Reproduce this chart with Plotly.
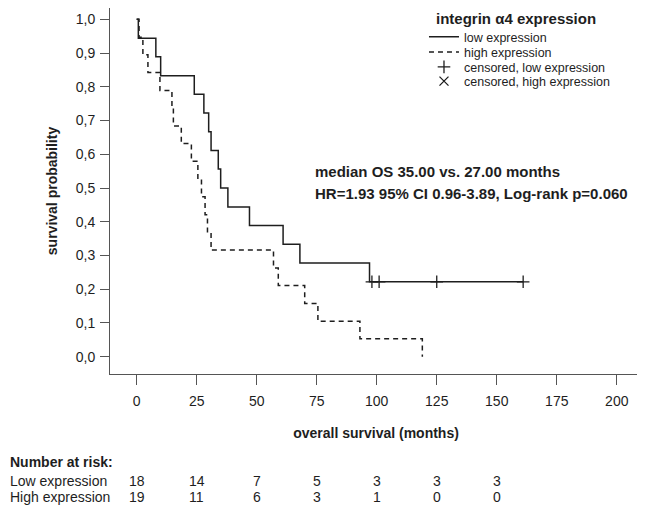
import plotly.graph_objects as go

# ---- data ----
low_times = [0, 0.7, 8, 10, 24, 28, 30, 31, 34, 35, 38, 47, 61, 68, 97, 161]
low_surv = [1.0, 0.944, 0.889, 0.833, 0.778, 0.722, 0.667, 0.611, 0.556, 0.500,
            0.444, 0.389, 0.333, 0.278, 0.222, 0.222]

high_times = [0, 1, 2.6, 4.7, 9.7, 14.7, 15.3, 18.6, 22.8, 25.5, 27, 28.5, 29.5,
              31, 57, 59, 70, 75.5, 93, 119]
high_surv = [1.0, 0.947, 0.895, 0.842, 0.789, 0.737, 0.684, 0.632, 0.579, 0.526,
             0.474, 0.421, 0.368, 0.316, 0.263, 0.211, 0.158, 0.105, 0.053, 0.0]

cens_low_times = [98, 101, 125, 161]
cens_low_surv = [0.222, 0.222, 0.222, 0.222]
cens_high_times = []   # no censored patients in the high-expression group
cens_high_surv = []

x_ticks = [0, 25, 50, 75, 100, 125, 150, 175, 200]
y_ticks = [0.0, 0.1, 0.2, 0.3, 0.4, 0.5, 0.6, 0.7, 0.8, 0.9, 1.0]
y_ticktext = ["0,0", "0,1", "0,2", "0,3", "0,4", "0,5", "0,6", "0,7", "0,8", "0,9", "1,0"]

risk_times = [0, 25, 50, 75, 100, 125, 150]
risk_low = [18, 14, 7, 5, 3, 3, 3]
risk_high = [19, 11, 6, 3, 1, 0, 0]

FONT = "Liberation Sans, Arial, sans-serif"
INK = "#1e1e1e"
AXC = "#555555"

fig = go.Figure()
fig.add_trace(go.Scatter(x=low_times, y=low_surv, mode="lines", line_shape="hv",
                         line=dict(color=INK, width=1.5), name="low expression",
                         legend="legend"))
fig.add_trace(go.Scatter(x=high_times, y=high_surv, mode="lines", line_shape="hv",
                         line=dict(color=INK, width=1.5, dash="5px,4px"),
                         name="high expression", legend="legend2"))
fig.add_trace(go.Scatter(x=cens_low_times, y=cens_low_surv, mode="markers",
                         marker=dict(symbol="cross-thin-open", size=9, color=INK,
                                     line=dict(color=INK, width=1.3)),
                         name="censored, low expression", legend="legend3"))
fig.add_trace(go.Scatter(x=cens_high_times or [None], y=cens_high_surv or [None],
                         mode="markers",
                         marker=dict(symbol="x-thin-open", size=9, color=INK,
                                     line=dict(color=INK, width=1.3)),
                         name="censored, high expression", legend="legend4"))

annotations = [
    dict(text="<b>integrin α4 expression</b>", xref="paper", yref="paper",
         x=0.6090, y=0.999, xanchor="left", yanchor="top", showarrow=False,
         font=dict(size=15, color=INK, family=FONT)),
    dict(text="<b>median OS 35.00 vs. 27.00 months</b>", xref="paper", yref="paper",
         x=0.3816, y=0.552, xanchor="left", yanchor="middle", showarrow=False,
         font=dict(size=15, color=INK, family=FONT)),
    dict(text="<b>HR=1.93 95% CI 0.96-3.89, Log-rank p=0.060</b>", xref="paper", yref="paper",
         x=0.3816, y=0.4945, xanchor="left", yanchor="middle", showarrow=False,
         font=dict(size=15, color=INK, family=FONT)),
    dict(text="<b>Number at risk:</b>", xref="paper", yref="paper", x=-0.1917, y=-0.2404,
         xanchor="left", yanchor="middle", showarrow=False,
         font=dict(size=14, color=INK, family=FONT)),
    dict(text="Low expression", xref="paper", yref="paper", x=-0.1917, y=-0.2923,
         xanchor="left", yanchor="middle", showarrow=False,
         font=dict(size=14, color=INK, family=FONT)),
    dict(text="High expression", xref="paper", yref="paper", x=-0.1917, y=-0.3361,
         xanchor="left", yanchor="middle", showarrow=False,
         font=dict(size=14, color=INK, family=FONT)),
]
for t, n in zip(risk_times, risk_low):
    annotations.append(dict(text=str(n), xref="x", yref="paper", x=t, y=-0.2923,
                            xanchor="center", yanchor="middle", showarrow=False,
                            font=dict(size=14, color=INK, family=FONT)))
for t, n in zip(risk_times, risk_high):
    annotations.append(dict(text=str(n), xref="x", yref="paper", x=t, y=-0.3361,
                            xanchor="center", yanchor="middle", showarrow=False,
                            font=dict(size=14, color=INK, family=FONT)))

leg_common = dict(x=0.5902, xanchor="left", yanchor="top", bgcolor="rgba(0,0,0,0)",
                  itemwidth=30, font=dict(size=12.5, family=FONT, color=INK))

fig.update_layout(
    width=637, height=502,
    margin=dict(l=102, r=3, t=0, b=136, autoexpand=False),
    paper_bgcolor="white", plot_bgcolor="white",
    font=dict(family=FONT, color=INK),
    showlegend=True,
    legend=dict(y=0.9612, **leg_common),
    legend2=dict(y=0.9194, **leg_common),
    legend3=dict(y=0.8792, **leg_common),
    legend4=dict(y=0.8402, **leg_common),
    annotations=annotations,
    xaxis=dict(
        range=[-11.1, 210.5], tickvals=x_ticks, ticks="outside", ticklen=10,
        tickcolor=AXC, tickwidth=1, showline=True, linecolor=AXC, linewidth=1,
        showgrid=False, zeroline=False, ticklabelstandoff=4,
        tickfont=dict(size=14, family=FONT, color=INK),
        title=dict(text="<b>overall survival (months)</b>", standoff=20,
                   font=dict(size=14, family=FONT, color=INK)),
    ),
    yaxis=dict(
        range=[-0.0513, 1.0335], tickvals=y_ticks, ticktext=y_ticktext, ticks="outside",
        ticklen=9, tickcolor=AXC, tickwidth=1, showline=True, linecolor=AXC,
        linewidth=1, showgrid=False, zeroline=False, ticklabelstandoff=2,
        tickfont=dict(size=14, family=FONT, color=INK),
        title=dict(text="<b>survival probability</b>", standoff=14,
                   font=dict(size=14, family=FONT, color=INK)),
    ),
)

fig.write_html("out.html")
